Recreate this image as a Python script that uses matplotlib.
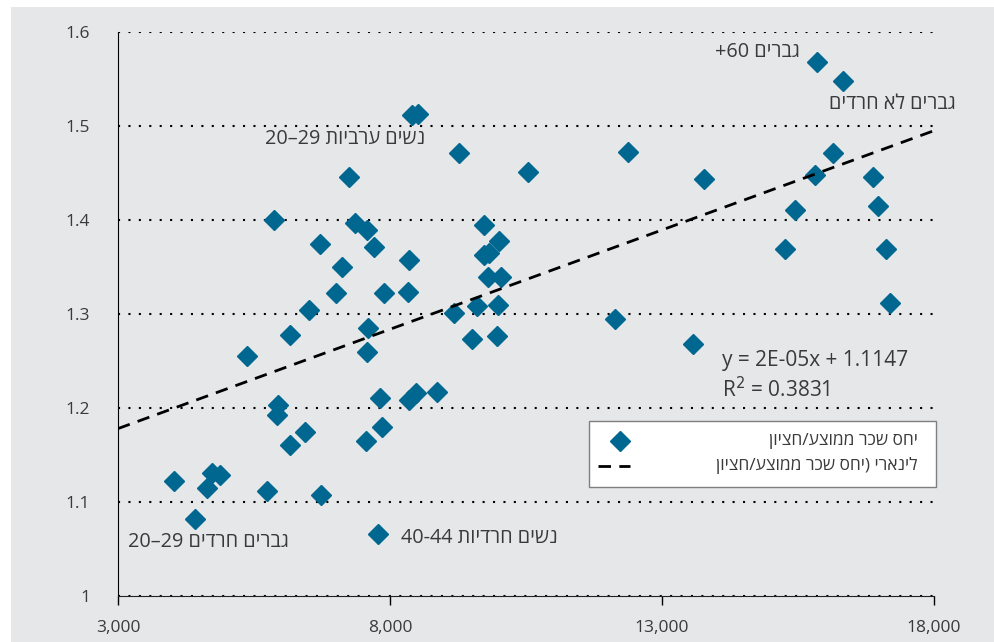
import numpy as np
import matplotlib
matplotlib.use('Agg')
import matplotlib.pyplot as plt
from matplotlib.patches import Rectangle
from matplotlib.ticker import FuncFormatter

plt.rcParams['font.family'] = ['Open Sans', 'DejaVu Sans']

# average wage (x) vs. mean/median wage ratio (y), one point per group
wage = [4030, 4420, 4630, 4720, 4875, 5370, 5745, 5870, 5945, 5930,
        6160, 6160, 6440, 6505, 6720, 6725, 7015, 7120, 7245, 7355,
        7555, 7570, 7590, 7585, 7710, 7785, 7815, 7845, 7895, 8335,
        8350, 8355, 8405, 8515, 8470, 8860, 9180, 9260, 9500, 9595,
        9730, 9735, 9825, 9800, 9970, 9980, 10010, 10035, 10530, 12130,
        12375, 13575, 13780, 15260, 15445, 15805, 15845, 16150, 16320, 16885,
        16965, 17115, 17190]
ratio = [1.122, 1.082, 1.115, 1.131, 1.129, 1.255, 1.112, 1.400, 1.203, 1.193,
         1.161, 1.278, 1.175, 1.304, 1.374, 1.107, 1.322, 1.350, 1.446, 1.397,
         1.165, 1.260, 1.285, 1.389, 1.371, 1.066, 1.211, 1.180, 1.322, 1.323,
         1.357, 1.209, 1.512, 1.513, 1.216, 1.217, 1.301, 1.471, 1.273, 1.308,
         1.363, 1.395, 1.365, 1.339, 1.277, 1.310, 1.378, 1.339, 1.451, 1.295,
         1.472, 1.268, 1.444, 1.369, 1.411, 1.448, 1.568, 1.471, 1.548, 1.446,
         1.415, 1.369, 1.312]

# linear trend as reported on the chart
trend_slope = 2.113e-05
trend_intercept = 1.1147
trend_x = [3000, 18000]

x_ticks = [3000, 8000, 13000, 18000]
y_ticks = [1.0, 1.1, 1.2, 1.3, 1.4, 1.5, 1.6]


def rtl(s):
    # matplotlib has no bidi support: reverse Hebrew and mirror brackets
    return s[::-1].translate(str.maketrans('()', ')('))


series_label = 'יחס שכר ממוצע/חציון'
trend_label = 'לינארי (יחס שכר ממוצע/חציון'
group_labels = [
    ('+60 ' + rtl('גברים'), 15540, 1.579, 'right'),
    (rtl('גברים לא חרדים'), 18400, 1.523, 'right'),
    ('20–29 ' + rtl('נשים ערביות'), 8640, 1.486, 'right'),
    ('20–29 ' + rtl('גברים חרדים'), 3185, 1.057, 'left'),
    ('40-44 ' + rtl('נשים חרדיות'), 8200, 1.062, 'left'),
]

blue = '#006890'
text_col = '#3a3a3a'

fig = plt.figure(figsize=(9.94, 6.42), dpi=100)
fig.patches.append(Rectangle((11 / 994, 0), 1, 1 - 7 / 642, transform=fig.transFigure,
                             facecolor='#e6e7e9', edgecolor='none', zorder=-5))
ax = fig.add_axes([118 / 994, 1 - 596 / 642, 816 / 994, 564 / 642])
ax.set_facecolor('none')

ax.plot(wage, ratio, linestyle='none', marker='D', ms=10.5, color=blue, zorder=3)
tx = np.array(trend_x)
ax.plot(tx, trend_slope * tx + trend_intercept, color='black', lw=2,
        dashes=(4.5, 3), zorder=4)

ax.set_xlim(3000, 18000)
ax.set_ylim(1.0, 1.6)
ax.set_xticks(x_ticks)
ax.set_yticks(y_ticks)
ax.xaxis.set_major_formatter(FuncFormatter(lambda v, p: '{:,.0f}'.format(v)))
ax.yaxis.set_major_formatter(FuncFormatter(lambda v, p: '{:g}'.format(v)))
ax.tick_params(axis='y', length=0, pad=20, labelsize=12.5, labelcolor=text_col)
ax.tick_params(axis='x', length=6.5, width=1, direction='out', pad=11,
               labelsize=12.5, labelcolor=text_col)
ax.yaxis.grid(True, color='black', lw=1.5, linestyle=(0, (1, 4)))
ax.set_axisbelow(True)
for s in ['top', 'right']:
    ax.spines[s].set_visible(False)
ax.spines['left'].set_color('black')
ax.spines['bottom'].set_color('#222222')

for txt, x, y, ha in group_labels:
    ax.text(x, y, txt, ha=ha, va='center', fontsize=14.3, color=text_col, clip_on=False)

ax.text(14100, 1.251, 'y = 2E-05x + 1.1147', ha='left', va='center', fontsize=15, color=text_col)
ax.text(14100, 1.220, r'R$^2$ = 0.3831', ha='left', va='center', fontsize=15, color=text_col)

# legend box (text right aligned as in the original)
ax.add_patch(Rectangle((0.577, 0.1933), 0.4255, 0.117, transform=ax.transAxes,
                       facecolor='white', edgecolor='#7f7f7f', lw=1, clip_on=False, zorder=5))
ax.plot([0.615], [0.2748], marker='D', ms=10.5, color=blue, transform=ax.transAxes,
        clip_on=False, zorder=6)
ax.plot([0.588, 0.627], [0.2305, 0.2305], color='black', lw=2, dashes=(4.5, 3),
        transform=ax.transAxes, clip_on=False, zorder=6)
ax.text(0.980, 0.2748, rtl(series_label), ha='right', va='center', fontsize=12.5,
        color=text_col, transform=ax.transAxes, zorder=6)
ax.text(0.980, 0.2305, rtl(trend_label), ha='right', va='center', fontsize=12.5,
        color=text_col, transform=ax.transAxes, zorder=6)

plt.savefig('out.png', dpi=100)
